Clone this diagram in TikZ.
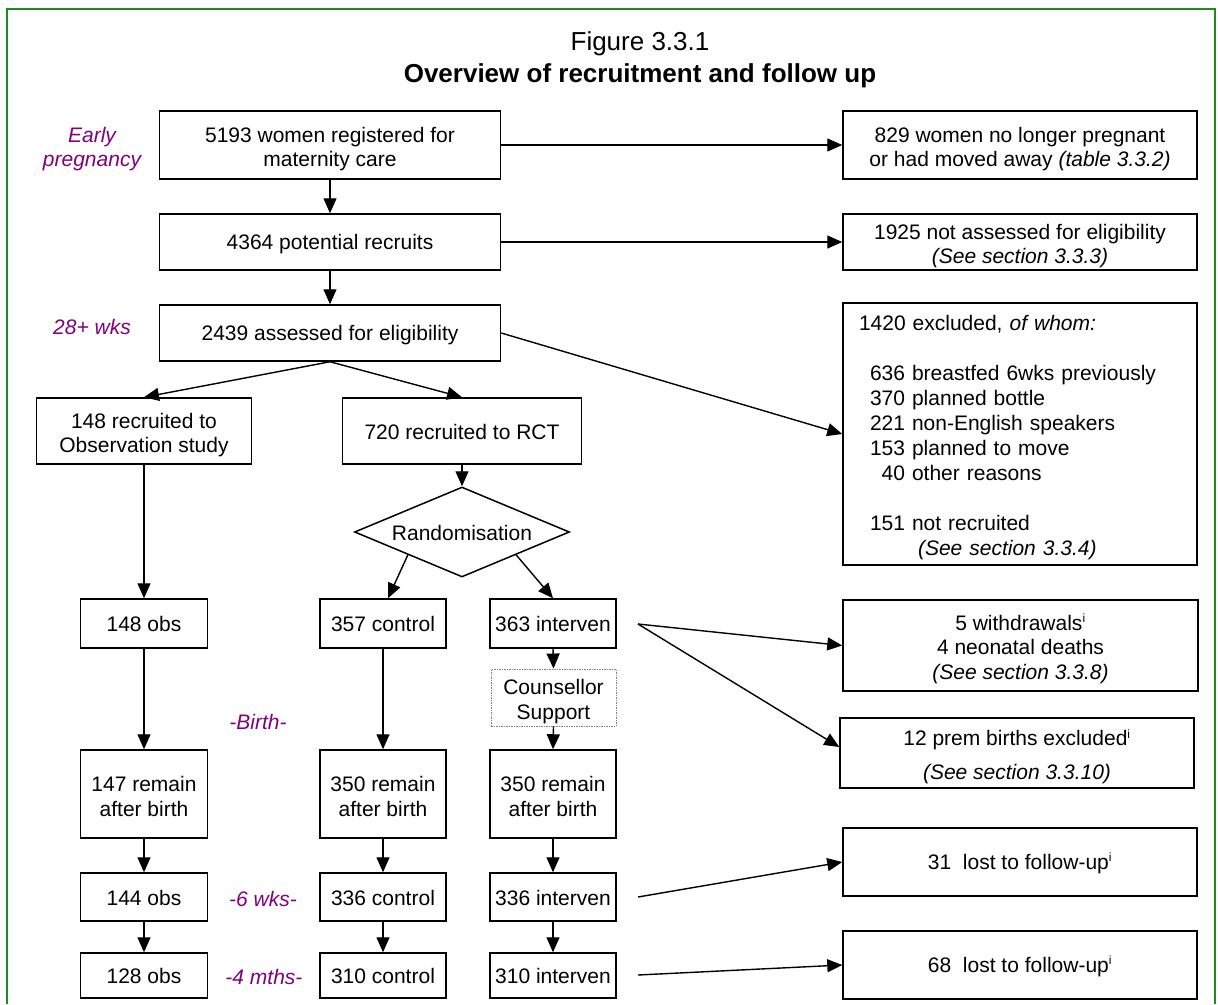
\documentclass[tikz,border=0pt]{standalone}
\usepackage{fontspec}
\setmainfont{Liberation Sans}
\usetikzlibrary{arrows.meta,shapes.geometric}
\definecolor{framegreen}{RGB}{30,140,30}
\definecolor{stagepurple}{RGB}{128,0,128}
\newcommand{\supi}{\textsuperscript{\fontsize{12}{12}\selectfont i}}
% taller first line, so that stacked lines sit a little lower in their box
\newcommand{\firstln}{\rule{0pt}{23pt}}

\begin{document}
\begin{tikzpicture}[x=1pt,y=-1pt,
  every node/.style={font=\fontsize{21}{24.5}\selectfont},
  box/.style={draw, line width=1.5pt, align=center, inner sep=0pt,
              execute at begin node={\rule[-2.8pt]{0pt}{22pt}}},
  wh/.style 2 args={minimum width=#1pt, minimum height=#2pt},
  flow/.style={line width=1.4pt, -{Triangle[length=15pt,width=13pt]}},
  stage/.style={text=stagepurple, font=\fontsize{21}{24.5}\selectfont\itshape, align=center},
  titlefont/.style={font=\fontsize{26}{30}\selectfont},
]
\useasboundingbox (0,0) rectangle (1218,1004);

% frame (open at the bottom)
\draw[framegreen, line width=2pt] (7,1004) -- (7,9) -- (1215,9) -- (1215,1004);

% heading
\node[titlefont] (fig) at (640,44) {Figure 3.3.1};
\node[titlefont, font=\fontsize{26}{30}\selectfont\bfseries] (ttl) at (640,76) {Overview of recruitment and follow up};

% stage labels
\node[stage] (early) at (92,149) {Early\\pregnancy};
\node[stage] (wk28) at (92,327) {28+ wks};
\node[stage] (birth) at (258,722) {-Birth-};
\node[stage] (wk6) at (263,898.5) {-6 wks-};
\node[stage] (mth4) at (264,977) {-4 mths-};

% recruitment column
\node[box, wh={341}{68}] (reg) at (330,145) {\firstln 5193 women registered for\\maternity care};
\node[box, wh={341}{56}] (pot) at (330,242) {4364 potential recruits};
\node[box, wh={341}{56}] (elig) at (330,333) {2439 assessed for eligibility};

% losses before recruitment
\node[box, wh={354}{68}] (moved) at (1020,145) {\firstln 829 women no longer pregnant\\or had moved away \textit{(table 3.3.2)}};
\node[box, wh={354}{56}] (nass) at (1020,242) {\firstln 1925 not assessed for eligibility\\\textit{(See section 3.3.3)}};
\node[box, wh={354}{262}, align=left, inner xsep=16pt, text width=322pt,
      font=\fontsize{21}{25}\selectfont] (excl) at (1020,434)
  {\firstln 1420 excluded, \textit{of whom:}\\[25pt]
   \hspace*{11pt}636 breastfed 6wks previously\\
   \hspace*{11pt}370 planned bottle\\
   \hspace*{11pt}221 non-English speakers\\
   \hspace*{11pt}153 planned to move\\
   \hspace*{11pt}\hphantom{1}40 other reasons\\[25pt]
   \hspace*{11pt}151 not recruited\\
   \hspace*{59pt}\textit{(See section 3.3.4)}};

% study arms
\node[box, wh={215}{66}] (obs) at (144,431) {\firstln 148 recruited to\\Observation study};
\node[box, wh={239}{66}] (rct) at (462,431) {720 recruited to RCT};
\node[draw, diamond, aspect=2.4, line width=1.5pt, inner sep=0pt,
      minimum width=215pt, minimum height=90pt] (rand) at (462,532) {\rule[-2.8pt]{0pt}{22pt}Randomisation};

\node[box, wh={127}{49}] (obs1) at (144,623.5) {148 obs};
\node[box, wh={126}{49}] (ctl1) at (383,623.5) {357 control};
\node[box, wh={126}{49}] (int1) at (553,623.5) {363 interven};
\node[box, draw=gray, densely dotted, line width=0.9pt, wh={125}{57}] (cs) at (553.5,697.5) {\firstln Counsellor\\Support};

\node[box, wh={127}{88}] (obs2) at (144,794) {\firstln 147 remain\\after birth};
\node[box, wh={126}{88}] (ctl2) at (383,794) {\firstln 350 remain\\after birth};
\node[box, wh={126}{88}] (int2) at (553,794) {\firstln 350 remain\\after birth};

\node[box, wh={127}{48}] (obs3) at (144,897) {144 obs};
\node[box, wh={126}{48}] (ctl3) at (383,897) {336 control};
\node[box, wh={126}{48}] (int3) at (553,897) {336 interven};

\node[box, wh={127}{45}] (obs4) at (144,975.5) {128 obs};
\node[box, wh={126}{45}] (ctl4) at (383,975.5) {310 control};
\node[box, wh={126}{45}] (int4) at (553,975.5) {310 interven};

% losses after recruitment
\node[box, wh={355}{91}] (wd) at (1020.5,645.5) {\firstln 5 withdrawals\supi\\4 neonatal deaths\\\textit{(See section 3.3.8)}};
\node[box, wh={354}{70}] (prem) at (1017,753) {\firstln 12 prem births excluded\supi\\[9pt]\textit{(See section 3.3.10)}};
\node[box, wh={354}{68}] (lost1) at (1020,862) {31\ \ lost to follow-up\supi};
\node[box, wh={354}{68}] (lost2) at (1020,965) {68\ \ lost to follow-up\supi};

\coordinate (split) at (638,624);
\coordinate (f6) at (638,897);
\coordinate (f4) at (638,975);

% connectors
\draw[flow] (reg.south) -- (pot.north);
\draw[flow] (reg.east) -- (moved.west);
\draw[flow] (pot.south) -- (elig.north);
\draw[flow] (pot.east) -- (nass.west);
\draw[flow] (elig.east) -- (excl.west);
\draw[flow] (elig.south) -- (obs.north);
\draw[flow] (elig.south) -- (rct.north);
\draw[flow] (obs.south) -- (obs1.north);
\draw[flow] (rct.south) -- (rand.north);
\draw[flow] (rand.south west) -- ([xshift=5pt]ctl1.north);
\draw[flow] (rand.south east) -- (int1.north);
\draw[flow] (obs1.south) -- (obs2.north);
\draw[flow] (ctl1.south) -- (ctl2.north);
\draw[flow] (int1.south) -- (cs.north);
\draw[flow] (cs.south) -- (int2.north);
\draw[flow] (split) -- (wd.west);
\draw[flow] (split) -- ([yshift=6pt]prem.west);
\draw[flow] (obs2.south) -- (obs3.north);
\draw[flow] (ctl2.south) -- (ctl3.north);
\draw[flow] (int2.south) -- (int3.north);
\draw[flow] (obs3.south) -- (obs4.north);
\draw[flow] (ctl3.south) -- (ctl4.north);
\draw[flow] (int3.south) -- (int4.north);
\draw[flow] (f6) -- (lost1.west);
\draw[flow] (f4) -- (lost2.west);
\end{tikzpicture}
\end{document}
